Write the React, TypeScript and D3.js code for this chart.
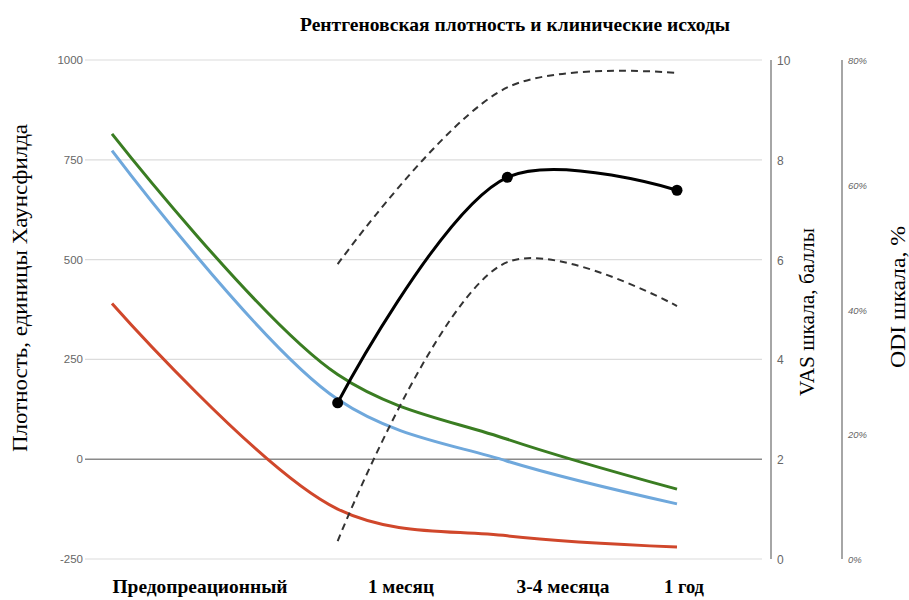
import React from "react";
import * as d3 from "d3";

// ---- data ----
const categories = ["Предопреационный", "1 месяц", "3-4 месяца", "1 год"];
const catPos = [0, 1.33, 2.33, 3.33];
const greenHU = [815, 212, 50, -75];
const blueHU = [773, 150, -5, -112];
const redHU = [390, -125, -192, -220];
const vasMean: (number | null)[] = [null, 3.13, 7.65, 7.39];
const vasUpper: (number | null)[] = [null, 5.91, 9.45, 9.74];
const vasLower: (number | null)[] = [null, 0.36, 5.95, 5.07];
const huTicks = [-250, 0, 250, 500, 750, 1000];
const vasTicks = [0, 2, 4, 6, 8, 10];
const odiTicks = [0, 0.2, 0.4, 0.6, 0.8];

const title = "Рентгеновская плотность и клинические исходы";
const yLeftTitle = "Плотность, единицы Хаунсфилда";
const vasTitle = "VAS шкала, баллы";
const odiTitle = "ODI шкала, %";

// ---- layout ----
const W = 909;
const H = 600;
const top = 60;
const bottom = 559;
const gridX1 = 85;
const gridX2 = 762;
const vasAxisX = 771;
const odiAxisX = 842;
const labelCenters = [200, 401, 563, 684];
const labelWidths = [175, 66, 93, 40];

export default function App() {
  const x = d3.scaleLinear().domain([0, 3.33]).range([112, 677]);
  const yHU = d3.scaleLinear().domain([-250, 1000]).range([bottom, top]);
  const yVAS = d3.scaleLinear().domain([0, 10]).range([bottom, top]);
  const yODI = d3.scaleLinear().domain([0, 0.8]).range([bottom, top]);

  const huLine = d3
    .line<number>()
    .x((_, i) => x(catPos[i]))
    .y((d) => yHU(d))
    .curve(d3.curveCatmullRom.alpha(0.5));

  const vasLine = d3
    .line<number | null>()
    .defined((d) => d !== null)
    .x((_, i) => x(catPos[i]))
    .y((d) => yVAS(d as number))
    .curve(d3.curveCatmullRom.alpha(0.5));

  const sans = "'Liberation Sans', Arial, sans-serif";
  const serif = "'Liberation Serif', 'Times New Roman', serif";

  return (
    <svg width={W} height={H} style={{ position: "absolute", left: 0, top: 0, background: "#fff" }}>
      <rect x={0} y={0} width={W} height={H} fill="#fff" />
      <text
        x={515}
        y={31}
        textAnchor="middle"
        fontFamily={serif}
        fontWeight="bold"
        fontSize={19}
        textLength={430}
        lengthAdjust="spacingAndGlyphs"
        fill="#000"
      >
        {title}
      </text>

      {/* grid */}
      {huTicks.map((t) => (
        <g key={"g" + t}>
          <line
            x1={gridX1}
            x2={gridX2}
            y1={yHU(t)}
            y2={yHU(t)}
            stroke={t === 0 ? "#8a8a8a" : "#dcdcdc"}
            strokeWidth={t === 0 ? 1.5 : 1.2}
          />
          <text
            x={83}
            y={yHU(t) + 4}
            textAnchor="end"
            fontFamily={sans}
            fontSize={11.5}
            fill="#666"
          >
            {t}
          </text>
        </g>
      ))}

      {/* VAS axis */}
      <line x1={vasAxisX} x2={vasAxisX} y1={top} y2={bottom} stroke="#888" strokeWidth={1.5} />
      {vasTicks.map((t) => (
        <text key={"v" + t} x={777} y={yVAS(t) + 5} fontFamily={sans} fontSize={12} fill="#666">
          {t}
        </text>
      ))}
      {/* ODI axis */}
      <line x1={odiAxisX} x2={odiAxisX} y1={top} y2={bottom} stroke="#888" strokeWidth={1.5} />
      {odiTicks.map((t) => (
        <text
          key={"o" + t}
          x={848}
          y={yODI(t) + 4}
          fontFamily={sans}
          fontStyle="italic"
          fontSize={9.5}
          fill="#666"
        >
          {d3.format(".0%")(t)}
        </text>
      ))}

      {/* density lines */}
      <path d={huLine(redHU) || ""} fill="none" stroke="#d0472b" strokeWidth={3} />
      <path d={huLine(blueHU) || ""} fill="none" stroke="#6fa8dc" strokeWidth={3} />
      <path d={huLine(greenHU) || ""} fill="none" stroke="#3a7d22" strokeWidth={3} />

      {/* VAS */}
      <path d={vasLine(vasUpper) || ""} fill="none" stroke="#333" strokeWidth={2} strokeDasharray="7,5" />
      <path d={vasLine(vasLower) || ""} fill="none" stroke="#333" strokeWidth={2} strokeDasharray="7,5" />
      <path d={vasLine(vasMean) || ""} fill="none" stroke="#000" strokeWidth={3} />
      {vasMean.map((v, i) =>
        v === null ? null : <circle key={"m" + i} cx={x(catPos[i])} cy={yVAS(v)} r={5.5} fill="#000" />
      )}

      {/* axis titles */}
      <text
        transform={`translate(27,${288}) rotate(-90)`}
        textAnchor="middle"
        fontFamily={serif}
        fontSize={20}
        textLength={328}
        lengthAdjust="spacingAndGlyphs"
        fill="#000"
      >
        {yLeftTitle}
      </text>
      <text
        transform={`translate(814,${312}) rotate(-90)`}
        textAnchor="middle"
        fontFamily={serif}
        fontSize={20}
        textLength={168}
        lengthAdjust="spacingAndGlyphs"
        fill="#000"
      >
        {vasTitle}
      </text>
      <text
        transform={`translate(905,${297}) rotate(-90)`}
        textAnchor="middle"
        fontFamily={serif}
        fontSize={20}
        textLength={142}
        lengthAdjust="spacingAndGlyphs"
        fill="#000"
      >
        {odiTitle}
      </text>

      {/* category labels */}
      {categories.map((c, i) => (
        <text
          key={c}
          x={labelCenters[i]}
          y={593}
          textAnchor="middle"
          fontFamily={serif}
          fontWeight="bold"
          fontSize={19}
          textLength={labelWidths[i]}
          lengthAdjust="spacingAndGlyphs"
          fill="#000"
        >
          {c}
        </text>
      ))}
    </svg>
  );
}
